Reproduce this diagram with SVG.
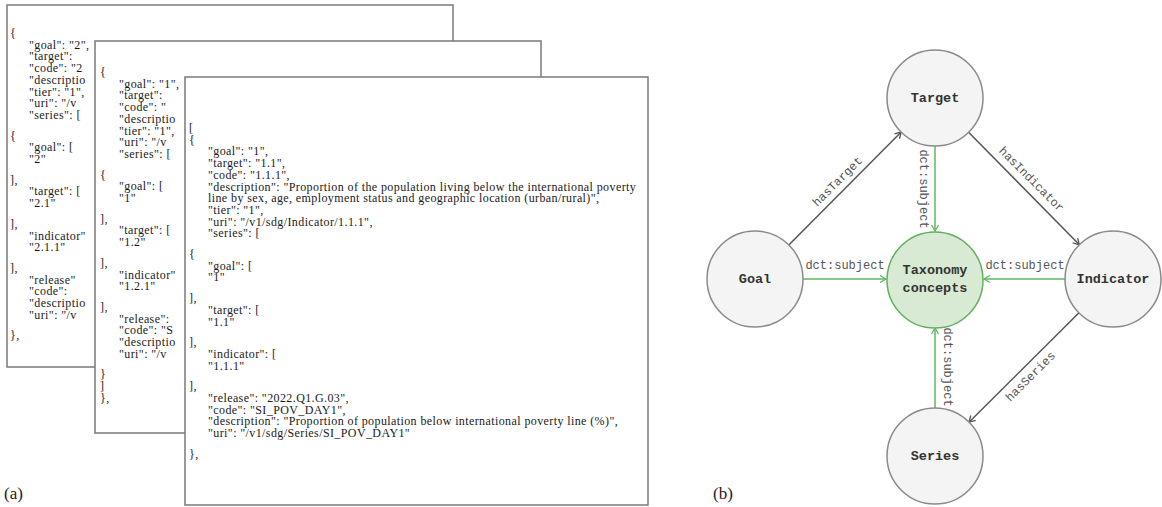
<svg xmlns="http://www.w3.org/2000/svg" width="1162" height="507" viewBox="0 0 1162 507">
<style>
.page{fill:#fff;stroke:#7a7a7a;stroke-width:1.5}
.js{font-family:"Liberation Serif","DejaVu Serif",serif;font-size:12px;letter-spacing:0.4px;fill:#1a1a1a}
.cap{font-family:"Liberation Serif","DejaVu Serif",serif;font-size:17px;fill:#222}
.node{fill:#f3f4f3;stroke:#8a8a8a;stroke-width:1.5}
.tax{fill:#d8ead3;stroke:#62b05f;stroke-width:1.5}
.nl{font-family:"Liberation Mono","DejaVu Sans Mono",monospace;font-size:13.5px;font-weight:bold;fill:#333;text-anchor:middle;dominant-baseline:central}
.el{font-family:"Liberation Mono","DejaVu Sans Mono",monospace;font-size:12px;fill:#555;text-anchor:middle;dominant-baseline:central}
.ed{stroke:#555;stroke-width:1.5;fill:none;marker-end:url(#arrD)}
.eg{stroke:#5fb760;stroke-width:1.5;fill:none;marker-end:url(#arrG)}
</style>
<defs>
<marker id="arrD" viewBox="-8 -5 10 10" refX="0" refY="0" markerWidth="10" markerHeight="10" markerUnits="userSpaceOnUse" orient="auto"><path d="M-6,-3.5 L0,0 L-6,3.5" fill="none" stroke="#555" stroke-width="1.3"/></marker>
<marker id="arrG" viewBox="-8 -5 10 10" refX="0" refY="0" markerWidth="10" markerHeight="10" markerUnits="userSpaceOnUse" orient="auto"><path d="M-6,-3.5 L0,0 L-6,3.5" fill="none" stroke="#5fb760" stroke-width="1.3"/></marker>
</defs>
<rect width="1162" height="507" fill="#fff"/>

<g id="page1">
<rect class="page" x="7" y="5" width="446" height="362"/>
<g class="js">
<text x="10" y="37">{</text>
<text x="29" y="48.7">"goal": "2",</text>
<text x="29" y="60.4">"target":</text>
<text x="29" y="72.1">"code": "2</text>
<text x="29" y="83.8">"descriptio</text>
<text x="29" y="95.5">"tier": "1",</text>
<text x="29" y="107.2">"uri": "/v</text>
<text x="29" y="118.9">"series": [</text>
<text x="10" y="139.6">{</text>
<text x="29" y="151.3">"goal": [</text>
<text x="29" y="163">"2"</text>
<text x="10" y="183.7">],</text>
<text x="29" y="195.4">"target": [</text>
<text x="29" y="207.1">"2.1"</text>
<text x="10" y="227.8">],</text>
<text x="29" y="239.5">"indicator"</text>
<text x="29" y="251.2">"2.1.1"</text>
<text x="10" y="271.9">],</text>
<text x="29" y="283.6">"release"</text>
<text x="29" y="295.3">"code":</text>
<text x="29" y="307">"descriptio</text>
<text x="29" y="318.7">"uri": "/v</text>
<text x="10" y="339.4">},</text>
</g>
</g>

<g id="page2">
<rect class="page" x="95" y="41" width="446" height="392"/>
<g class="js">
<text x="100" y="76">{</text>
<text x="119" y="87.7">"goal": "1",</text>
<text x="119" y="99.4">"target":</text>
<text x="119" y="111.1">"code": "</text>
<text x="119" y="122.8">"descriptio</text>
<text x="119" y="134.5">"tier": "1",</text>
<text x="119" y="146.2">"uri": "/v</text>
<text x="119" y="157.9">"series": [</text>
<text x="100" y="178.6">{</text>
<text x="119" y="190.3">"goal": [</text>
<text x="119" y="202">"1"</text>
<text x="100" y="222.7">],</text>
<text x="119" y="234.4">"target": [</text>
<text x="119" y="246.1">"1.2"</text>
<text x="100" y="266.8">],</text>
<text x="119" y="278.5">"indicator"</text>
<text x="119" y="290.2">"1.2.1"</text>
<text x="100" y="310.9">],</text>
<text x="119" y="322.6">"release":</text>
<text x="119" y="334.3">"code": "S</text>
<text x="119" y="346">"descriptio</text>
<text x="119" y="357.7">"uri": "/v</text>
<text x="100" y="378.4">}</text>
<text x="100" y="390.1">]</text>
<text x="100" y="401.8">},</text>
</g>
</g>

<g id="page3">
<rect class="page" x="185" y="77" width="463" height="428"/>
<g class="js">
<text x="189" y="132">[</text>
<text x="189" y="143.7">{</text>
<text x="208" y="155.4">"goal": "1",</text>
<text x="208" y="167.1">"target": "1.1",</text>
<text x="208" y="178.8">"code": "1.1.1",</text>
<text x="208" y="190.5">"description": "Proportion of the population living below the international poverty</text>
<text x="208" y="202.2">line by sex, age, employment status and geographic location (urban/rural)",</text>
<text x="208" y="213.9">"tier": "1",</text>
<text x="208" y="225.6">"uri": "/v1/sdg/Indicator/1.1.1",</text>
<text x="208" y="237.3">"series": [</text>
<text x="189" y="258">{</text>
<text x="208" y="269.7">"goal": [</text>
<text x="208" y="281.4">"1"</text>
<text x="189" y="302.1">],</text>
<text x="208" y="313.8">"target": [</text>
<text x="208" y="325.5">"1.1"</text>
<text x="189" y="346.2">],</text>
<text x="208" y="357.9">"indicator": [</text>
<text x="208" y="369.6">"1.1.1"</text>
<text x="189" y="390.3">],</text>
<text x="208" y="402">"release": "2022.Q1.G.03",</text>
<text x="208" y="413.7">"code": "SI_POV_DAY1",</text>
<text x="208" y="425.4">"description": "Proportion of population below international poverty line (%)",</text>
<text x="208" y="437.1">"uri": "/v1/sdg/Series/SI_POV_DAY1"</text>
<text x="189" y="457.8">},</text>
</g>
</g>

<text class="cap" x="4" y="499">(a)</text>
<text class="cap" x="713" y="499">(b)</text>

<g id="connectors">
<line class="ed" x1="788.8" y1="245" x2="901.2" y2="132"/>
<line class="ed" x1="968.6" y1="132.2" x2="1079.4" y2="244.8"/>
<line class="ed" x1="1079" y1="312.8" x2="969" y2="422.2"/>
<line class="eg" x1="935" y1="146" x2="935" y2="231"/>
<line class="eg" x1="935" y1="408" x2="935" y2="328"/>
<line class="eg" x1="803" y1="279" x2="886" y2="279"/>
<line class="eg" x1="1065" y1="279" x2="984" y2="279"/>
<text class="el" transform="translate(838,182) rotate(-45)">hasTarget</text>
<text class="el" transform="translate(1031,180) rotate(45)">hasIndicator</text>
<text class="el" transform="translate(1031,377) rotate(-45)">hasSeries</text>
<text class="el" transform="translate(923,189) rotate(90)">dct:subject</text>
<text class="el" transform="translate(947,367) rotate(90)">dct:subject</text>
<text class="el" x="845" y="266">dct:subject</text>
<text class="el" x="1025" y="266">dct:subject</text>
</g>

<g id="node-target"><circle class="node" cx="935" cy="98" r="48"/><text class="nl" x="935" y="98">Target</text></g>
<g id="node-taxonomy"><circle class="tax" cx="935" cy="280" r="48"/><text class="nl" x="935" y="270">Taxonomy</text><text class="nl" x="935" y="288">concepts</text></g>
<g id="node-goal"><circle class="node" cx="755" cy="279" r="48"/><text class="nl" x="755" y="279">Goal</text></g>
<g id="node-indicator"><circle class="node" cx="1113" cy="279" r="48"/><text class="nl" x="1113" y="279">Indicator</text></g>
<g id="node-series"><circle class="node" cx="935" cy="456" r="48"/><text class="nl" x="935" y="456">Series</text></g>
</svg>
